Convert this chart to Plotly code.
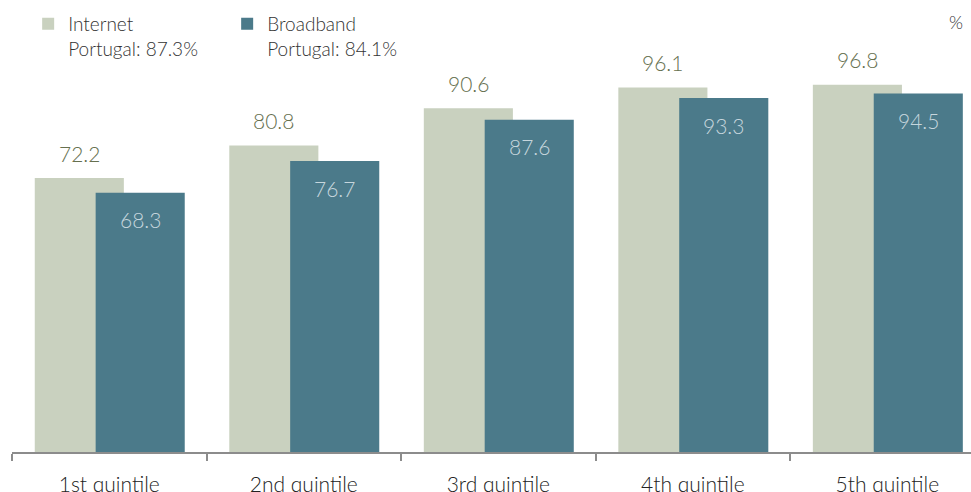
import plotly.graph_objects as go

categories = ["1st quintile", "2nd quintile", "3rd quintile", "4th quintile", "5th quintile"]
internet = [72.2, 80.8, 90.6, 96.1, 96.8]
broadband = [68.3, 76.7, 87.6, 93.3, 94.5]
series_names = ["Internet<br>Portugal: 87.3%", "Broadband<br>Portugal: 84.1%"]
unit_label = "%"

x = list(range(len(categories)))
W = 0.458
off_i = -0.383
off_b = -0.070

c_int = "#C9D1BF"
c_bb = "#4B7A8A"
FONT = "Lato"

fig = go.Figure()
fig.add_trace(go.Bar(x=x, y=internet, name=series_names[0], marker_color=c_int,
                     width=W, offset=off_i, marker_line_width=0))
fig.add_trace(go.Bar(x=x, y=broadband, name=series_names[1], marker_color=c_bb,
                     width=W, offset=off_b, marker_line_width=0))

ann = []
for i, v in enumerate(internet):
    ann.append(dict(x=i + off_i + W / 2, y=v, xref="x", yref="y", text=f"{v:.1f}",
                    showarrow=False, yshift=25, yanchor="middle",
                    font=dict(family=FONT, size=21, color="#66704F", weight=300)))
for i, v in enumerate(broadband):
    ann.append(dict(x=i + off_b + W / 2, y=v, xref="x", yref="y", text=f"{v:.1f}",
                    showarrow=False, yshift=-27, yanchor="middle",
                    font=dict(family=FONT, size=21, color="#C6D6DD", weight=300)))
ann.append(dict(x=1, y=0.973, xref="paper", yref="paper", text=unit_label, showarrow=False,
                xanchor="right", yanchor="middle", xshift=-6,
                font=dict(family=FONT, size=18, color="#333333", weight=300)))

fig.update_layout(
    width=971, height=492,
    margin=dict(l=12, r=0, t=10, b=40, autoexpand=False),
    plot_bgcolor="white", paper_bgcolor="white",
    barmode="overlay",
    showlegend=True,
    legend=dict(orientation="h", xref="container", yref="container", x=0.029, y=0.99,
                xanchor="left", yanchor="top", valign="top", itemwidth=30,
                entrywidth=154, entrywidthmode="pixels",
                font=dict(family=FONT, size=19, color="#333333", weight=300),
                traceorder="normal", bgcolor="rgba(0,0,0,0)"),
    annotations=ann,
    xaxis=dict(range=[-0.5, 4.43], tickmode="array", tickvals=x, ticktext=categories,
               ticks="outside", ticklen=13, tickcolor="rgba(0,0,0,0)", automargin=False,
               tickfont=dict(family=FONT, size=21, color="#222222", weight=300),
               showline=True, linecolor="#8C8C8C", linewidth=1.5, showgrid=False,
               zeroline=False,
               minor=dict(tickmode="linear", tick0=0.5, dtick=1, ticks="outside",
                          ticklen=7, tickcolor="#8C8C8C", tickwidth=1.5, showgrid=False)),
    yaxis=dict(range=[0, 116.5], visible=False, showgrid=False, zeroline=False,
               automargin=False),
)

fig.write_html("out.html", config={"displayModeBar": False},
               post_script="document.body.style.margin='0';document.body.style.overflow='hidden';")
